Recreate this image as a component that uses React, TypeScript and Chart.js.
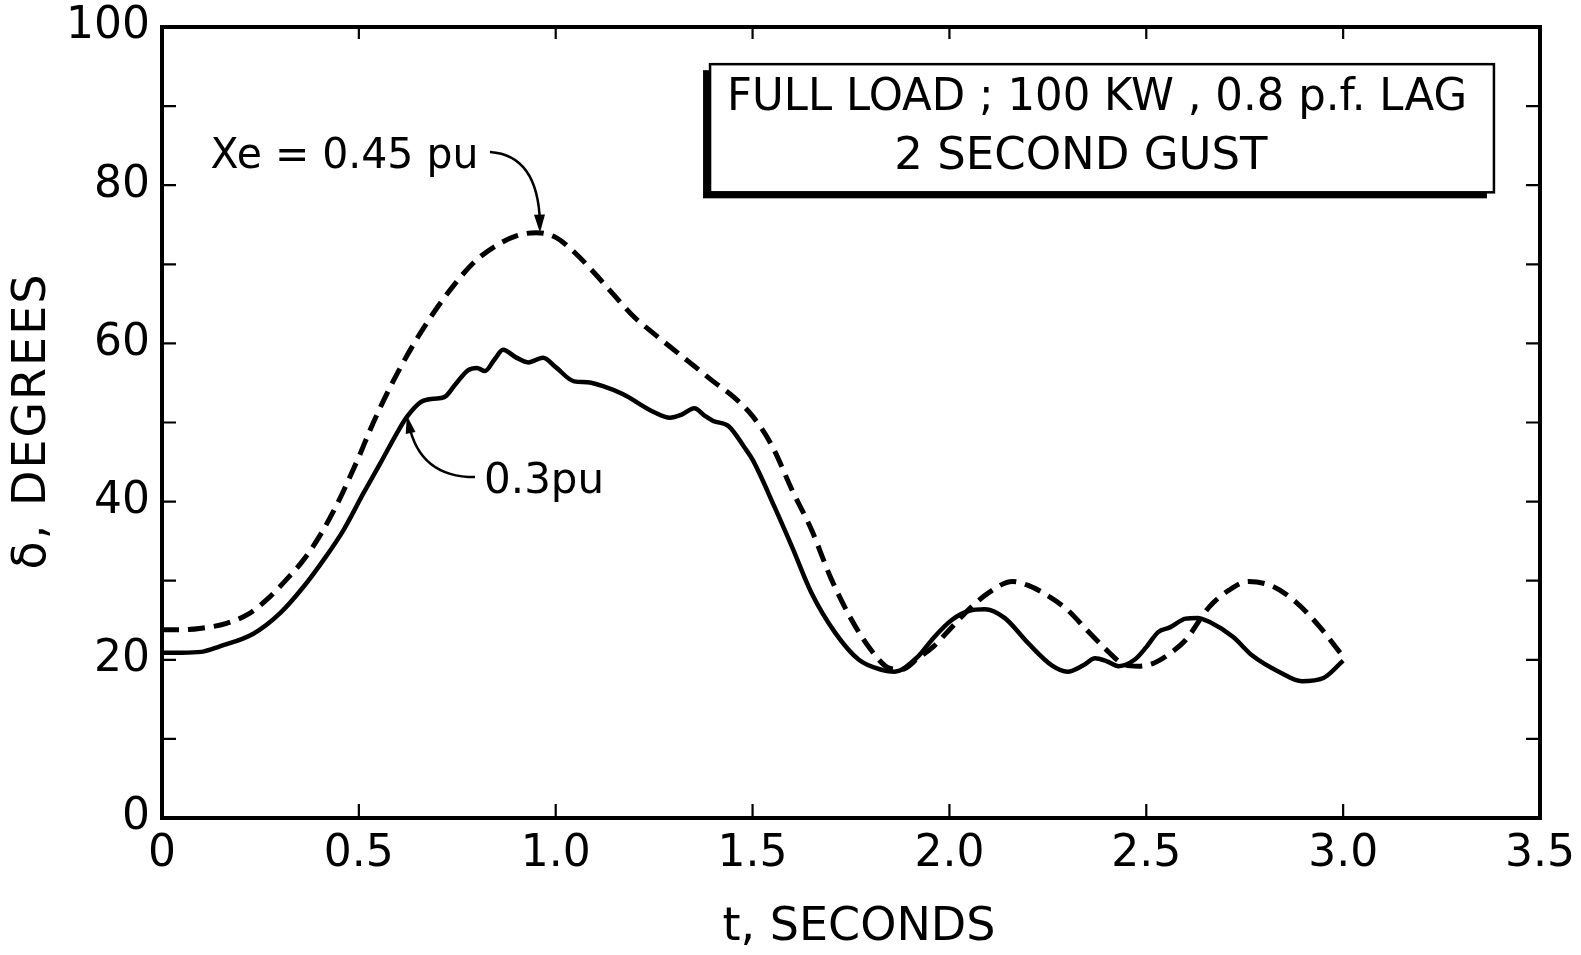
import React, { useEffect, useRef } from "react";
import { Chart, registerables } from "chart.js";

Chart.register(...registerables);

// ---- Data ----
// Xe = 0.45 pu (dashed)
const T_045 = [0, 0.05, 0.1, 0.164, 0.22, 0.266, 0.317, 0.359, 0.401, 0.444, 0.478, 0.503, 0.528, 0.562, 0.605, 0.65, 0.7, 0.76, 0.8, 0.85, 0.9, 0.95, 1.0, 1.05, 1.1, 1.15, 1.2, 1.25, 1.3, 1.35, 1.4, 1.45, 1.5, 1.55, 1.6, 1.65, 1.7, 1.75, 1.8, 1.85, 1.88, 1.92, 1.96, 2.0, 2.05, 2.1, 2.16, 2.2, 2.24, 2.3, 2.35, 2.4, 2.44, 2.48, 2.52, 2.56, 2.6, 2.66, 2.71, 2.76, 2.82, 2.88, 2.94, 3.0];
const D_045 = [23.8, 23.8, 24.0, 24.6, 25.8, 27.6, 30.2, 32.6, 35.7, 39.6, 43.2, 46.0, 49.0, 52.7, 56.9, 60.8, 64.6, 68.5, 70.6, 72.4, 73.6, 74.0, 73.4, 71.4, 68.8, 66.0, 63.3, 61.2, 59.2, 57.2, 55.2, 53.3, 50.8, 47.0, 41.5, 36.4, 30.2, 25.2, 21.3, 18.9, 18.8, 20.2, 21.7, 23.8, 26.4, 28.5, 29.9, 29.4, 28.4, 26.3, 23.7, 21.2, 19.5, 19.2, 19.6, 20.8, 22.5, 26.7, 28.8, 29.9, 29.3, 27.3, 24.2, 20.4];

// Xe = 0.3 pu (solid)
const T_030 = [0, 0.05, 0.1, 0.147, 0.232, 0.3, 0.359, 0.41, 0.461, 0.511, 0.554, 0.596, 0.622, 0.658, 0.69, 0.717, 0.745, 0.777, 0.8, 0.82, 0.845, 0.866, 0.9, 0.93, 0.968, 1.0, 1.047, 1.08, 1.12, 1.17, 1.25, 1.29, 1.32, 1.352, 1.38, 1.4, 1.44, 1.48, 1.5, 1.556, 1.6, 1.65, 1.71, 1.77, 1.83, 1.86, 1.92, 1.96, 2.005, 2.05, 2.09, 2.14, 2.2, 2.26, 2.3, 2.34, 2.37, 2.4, 2.43, 2.47, 2.5, 2.53, 2.56, 2.6, 2.63, 2.66, 2.72, 2.77, 2.84, 2.895, 2.95, 3.0];
const D_030 = [20.9, 20.9, 21.0, 21.7, 23.3, 25.9, 29.2, 32.6, 36.4, 41.0, 44.8, 48.6, 50.7, 52.6, 53.0, 53.2, 54.8, 56.6, 56.9, 56.5, 58.0, 59.2, 58.2, 57.6, 58.2, 57.0, 55.2, 55.1, 54.6, 53.6, 51.3, 50.6, 51.0, 51.8, 50.8, 50.2, 49.5, 46.8, 45.3, 39.3, 34.3, 28.4, 23.4, 20.0, 18.7, 18.5, 20.4, 22.8, 25.0, 26.2, 26.4, 25.3, 22.1, 19.3, 18.5, 19.3, 20.2, 19.8, 19.2, 20.0, 21.6, 23.5, 24.1, 25.2, 25.3, 24.8, 22.9, 20.5, 18.4, 17.3, 17.7, 19.9];

// Axis ticks
const X_TICKS = [0, 0.5, 1.0, 1.5, 2.0, 2.5, 3.0, 3.5];
const X_TICK_LABELS = ["0", "0.5", "1.0", "1.5", "2.0", "2.5", "3.0", "3.5"];
const Y_TICKS = [0, 10, 20, 30, 40, 50, 60, 70, 80, 90, 100];
const Y_TICK_LABELS = ["0", "", "20", "", "40", "", "60", "", "80", "", "100"];

// Text
const X_TITLE = "t, SECONDS";
const Y_TITLE = "δ, DEGREES";
const BOX_LINE1 = "FULL LOAD ; 100 KW , 0.8 p.f. LAG";
const BOX_LINE2 = "2 SECOND GUST";
const LABEL_045 = "Xe = 0.45 pu";
const LABEL_030 = "0.3pu";

const FONT = "'DejaVu Sans', sans-serif";

function arrowHead(ctx: CanvasRenderingContext2D, tx: number, ty: number, fx: number, fy: number, len: number, w: number) {
  const ang = Math.atan2(ty - fy, tx - fx);
  const bx = tx - len * Math.cos(ang);
  const by = ty - len * Math.sin(ang);
  ctx.beginPath();
  ctx.moveTo(tx, ty);
  ctx.lineTo(bx + (w / 2) * Math.sin(ang), by - (w / 2) * Math.cos(ang));
  ctx.lineTo(bx - (w / 2) * Math.sin(ang), by + (w / 2) * Math.cos(ang));
  ctx.closePath();
  ctx.fill();
}

const decorPlugin = {
  id: "decor",
  afterDraw(chart: any) {
    const { ctx, chartArea: a, scales } = chart;
    const x = scales.x;
    const y = scales.y;
    const px = (v: number) => x.getPixelForValue(v);
    const py = (v: number) => y.getPixelForValue(v);
    ctx.save();
    ctx.strokeStyle = "#000";
    ctx.fillStyle = "#000";

    // frame
    ctx.lineWidth = 4;
    ctx.strokeRect(a.left, a.top, a.right - a.left, a.bottom - a.top);

    // inward ticks
    ctx.lineWidth = 2.2;
    ctx.beginPath();
    X_TICKS.forEach((v) => {
      if (v <= 0 || v >= 3.5) return;
      const p = px(v);
      ctx.moveTo(p, a.bottom);
      ctx.lineTo(p, a.bottom - 14);
      ctx.moveTo(p, a.top);
      ctx.lineTo(p, a.top + 12);
    });
    Y_TICKS.forEach((v) => {
      if (v <= 0 || v >= 100) return;
      const p = py(v);
      ctx.moveTo(a.left, p);
      ctx.lineTo(a.left + 14, p);
      ctx.moveTo(a.right, p);
      ctx.lineTo(a.right - 14, p);
    });
    ctx.stroke();

    // annotation box with shadow
    const bl = px(1.392), br = px(3.383), bt = py(95.3), bb = py(79.1);
    ctx.fillStyle = "#000";
    ctx.fillRect(bl - 7, bt + 6, br - bl, bb - bt);
    ctx.fillStyle = "#fff";
    ctx.fillRect(bl, bt, br - bl, bb - bt);
    ctx.lineWidth = 2.5;
    ctx.strokeRect(bl, bt, br - bl, bb - bt);
    ctx.fillStyle = "#000";
    ctx.textAlign = "center";
    ctx.textBaseline = "middle";
    ctx.font = `44px ${FONT}`;
    ctx.fillText(BOX_LINE1, px(2.375), py(91.0), 740);
    ctx.font = `45px ${FONT}`;
    ctx.fillText(BOX_LINE2, px(2.334), py(83.5), 386);

    // curve labels
    ctx.textAlign = "left";
    ctx.textBaseline = "alphabetic";
    ctx.font = `43px ${FONT}`;
    ctx.fillText(LABEL_045, px(0.123), py(82.2), 268);
    ctx.font = `42px ${FONT}`;
    ctx.fillText(LABEL_030, px(0.818), py(41.1), 126);

    // arrows
    ctx.lineWidth = 2.5;
    // Xe = 0.45 arrow
    const s1 = [px(0.833), py(84.2)], c1 = [px(0.955), py(83.8)], e1 = [px(0.96), py(74.0)];
    ctx.beginPath();
    ctx.moveTo(s1[0], s1[1]);
    ctx.quadraticCurveTo(c1[0], c1[1], e1[0], e1[1] - 10);
    ctx.stroke();
    arrowHead(ctx, e1[0], e1[1], c1[0], c1[1], 18, 11);
    // 0.3 arrow
    const s2 = [px(0.795), py(43.1)], c2 = [px(0.655), py(43.1)], e2 = [px(0.622), py(50.9)];
    ctx.beginPath();
    ctx.moveTo(s2[0], s2[1]);
    ctx.quadraticCurveTo(c2[0], c2[1], e2[0] + 2, e2[1] + 9);
    ctx.stroke();
    arrowHead(ctx, e2[0], e2[1], c2[0], c2[1], 18, 10);

    // axis titles
    ctx.font = `46px ${FONT}`;
    ctx.textAlign = "center";
    ctx.textBaseline = "middle";
    ctx.fillText(X_TITLE, 859, 928);
    ctx.translate(33, 421);
    ctx.rotate(-Math.PI / 2);
    (ctx as any).letterSpacing = "2px";
    ctx.fillText(Y_TITLE, 0, 0);
    ctx.restore();
  },
};

export default function App() {
  const ref = useRef<HTMLCanvasElement | null>(null);

  useEffect(() => {
    document.body.style.margin = "0";
    const canvas = ref.current;
    if (!canvas) return;
    const chart = new Chart(canvas, {
      type: "line",
      data: {
        datasets: [
          {
            label: LABEL_045,
            data: T_045.map((t, i) => ({ x: t, y: D_045[i] })),
            borderColor: "#000",
            borderWidth: 5,
            borderDash: [17, 9],
            pointRadius: 0,
            cubicInterpolationMode: "monotone",
            fill: false,
          },
          {
            label: LABEL_030,
            data: T_030.map((t, i) => ({ x: t, y: D_030[i] })),
            borderColor: "#000",
            borderWidth: 4.5,
            pointRadius: 0,
            cubicInterpolationMode: "monotone",
            fill: false,
          },
        ],
      },
      options: {
        responsive: false,
        animation: false,
        events: [],
        layout: { padding: { top: 27, right: 41, left: 0, bottom: 0 } },
        plugins: {
          legend: { display: false },
          tooltip: { enabled: false },
          title: { display: false },
        },
        scales: {
          x: {
            type: "linear",
            min: 0,
            max: 3.5,
            grid: { display: false, drawTicks: false },
            border: { display: false },
            afterFit: (s: any) => {
              s.height = 137;
              s.paddingLeft = 0;
              s.paddingRight = 0;
            },
            afterBuildTicks: (s: any) => {
              s.ticks = X_TICKS.map((v) => ({ value: v }));
            },
            ticks: {
              padding: 10,
              color: "#000",
              maxRotation: 0,
              autoSkip: false,
              font: { family: FONT, size: 44 },
              callback: (v: any) => {
                const i = X_TICKS.indexOf(Number(v));
                return i >= 0 ? X_TICK_LABELS[i] : "";
              },
            },
          },
          y: {
            type: "linear",
            min: 0,
            max: 100,
            grid: { display: false, drawTicks: false },
            border: { display: false },
            afterFit: (s: any) => {
              s.width = 162;
              s.paddingTop = 0;
              s.paddingBottom = 0;
            },
            afterBuildTicks: (s: any) => {
              s.ticks = Y_TICKS.map((v) => ({ value: v }));
            },
            ticks: {
              padding: 12,
              color: "#000",
              autoSkip: false,
              font: { family: FONT, size: 44 },
              callback: (v: any) => {
                const i = Y_TICKS.indexOf(Number(v));
                return i >= 0 ? Y_TICK_LABELS[i] : "";
              },
            },
          },
        },
      },
      plugins: [decorPlugin],
    } as any);
    return () => chart.destroy();
  }, []);

  return (
    <div style={{ position: "absolute", left: 0, top: 0, width: 1581, height: 955, background: "#fff" }}>
      <canvas ref={ref} width={1581} height={955} style={{ display: "block" }} />
    </div>
  );
}
